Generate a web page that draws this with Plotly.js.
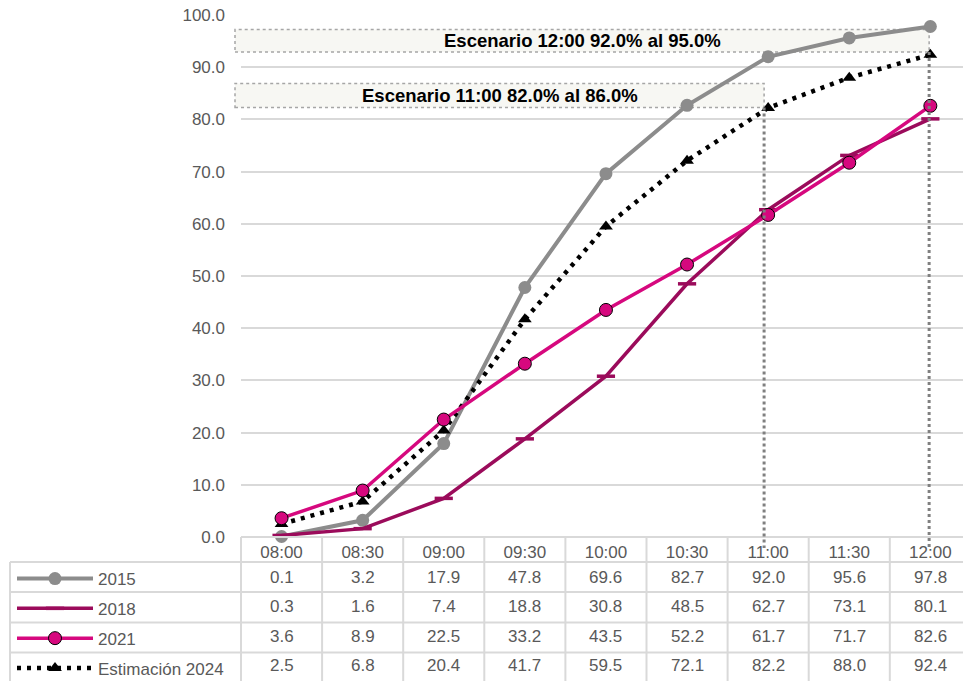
<!DOCTYPE html>
<html>
<head>
<meta charset="utf-8">
<script src="https://cdn.plot.ly/plotly-3.0.1.min.js"></script>
<style>html,body{margin:0;padding:0;background:#fff;}#chart{width:963px;height:681px;}</style>
</head>
<body>
<div id="chart"></div>
<script>
// ---- data ----
const times = ["08:00","08:30","09:00","09:30","10:00","10:30","11:00","11:30","12:00"];
const y2015 = [0.1, 3.2, 17.9, 47.8, 69.6, 82.7, 92.0, 95.6, 97.8];
const y2018 = [0.3, 1.6, 7.4, 18.8, 30.8, 48.5, 62.7, 73.1, 80.1];
const y2021 = [3.6, 8.9, 22.5, 33.2, 43.5, 52.2, 61.7, 71.7, 82.6];
const yEst  = [2.5, 6.8, 20.4, 41.7, 59.5, 72.1, 82.2, 88.0, 92.4];
const seriesNames = ["2015", "2018", "2021", "Estimación 2024"];
const scenarios = [
  {time: "11:00", text: "Escenario 11:00 82.0% al 86.0%", y0: 82.3, y1: 86.9, dx: -0.05},
  {time: "12:00", text: "Escenario 12:00 92.0% al 95.0%", y0: 92.9, y1: 97.2, dx: -0.015}
];

// ---- layout constants ----
const W = 963, H = 681;
const mL = 241, mT = 15, mB = 144;
const plotH = H - mT - mB;            // 522
const plotW = W - mL;                 // 722
const xMin = -0.5, xMax = xMin + plotW / 81.1;
const FONT = "Liberation Sans, Arial, sans-serif";
const GRID = "#d9d9d9";
const TXT = "#595959";
const FS = 17;

function pyToPaper(py) { return (H - mB - py) / plotH; }
function xToPaper(i) { return (i - xMin) / (xMax - xMin); }

const rowTops = [562, 592, 622.5, 652.5, 682];
const rowCenters = [577, 606.5, 636.5, 665.5];

const colors = ["#8c8c8c", "#9b0b5b", "#d6087e", "#000000"];

const traces = [
  {x: times, y: y2015, name: seriesNames[0], type: "scatter", mode: "lines+markers",
   line: {color: colors[0], width: 4}, marker: {symbol: "circle", size: 13, color: colors[0]}},
  {x: times, y: y2018, name: seriesNames[1], type: "scatter", mode: "lines+markers",
   line: {color: colors[1], width: 3.5}, marker: {symbol: "line-ew", size: 13, line: {color: colors[1], width: 3.5}}},
  {x: times, y: yEst, name: seriesNames[3], type: "scatter", mode: "lines+markers",
   line: {color: colors[3], width: 4.5, dash: "4px,6px"}, marker: {symbol: "triangle-up", size: 12, color: colors[3]}},
  {x: times, y: y2021, name: seriesNames[2], type: "scatter", mode: "lines+markers",
   line: {color: colors[2], width: 3.5}, marker: {symbol: "circle", size: 13, color: colors[2], line: {color: "#000", width: 1}}}
];
traces[0].legendrank = 1; traces[1].legendrank = 2; traces[3].legendrank = 3; traces[2].legendrank = 4;

const shapes = [];
const annotations = [];

// table grid
shapes.push({type: "line", xref: "paper", yref: "paper", x0: 0, x1: 1, y0: 0, y1: 0, line: {color: GRID, width: 2}});
rowTops.slice(0, 4).forEach(py => {
  shapes.push({type: "line", xref: "paper", yref: "paper", x0: (10 - mL) / plotW, x1: 1, y0: pyToPaper(py), y1: pyToPaper(py), line: {color: GRID, width: 2}});
});
for (let i = 0; i <= times.length; i++) {
  const xp = xToPaper(i - 0.5);
  if (xp > 1.001) continue;
  shapes.push({type: "line", xref: "paper", yref: "paper", x0: xp, x1: xp, y0: 0, y1: pyToPaper(H + 2), line: {color: GRID, width: 2}});
}
shapes.push({type: "line", xref: "paper", yref: "paper", x0: (10 - mL) / plotW, x1: (10 - mL) / plotW, y0: pyToPaper(rowTops[0]), y1: pyToPaper(H + 2), line: {color: GRID, width: 2}});

// table values
const tableRows = [y2015, y2018, y2021, yEst];
tableRows.forEach((row, r) => {
  row.forEach((v, i) => {
    annotations.push({xref: "x", yref: "paper", x: times[i], y: pyToPaper(rowCenters[r]), text: v.toFixed(1),
      showarrow: false, font: {family: FONT, size: FS, color: TXT}, xanchor: "center", yanchor: "middle"});
  });
});

// scenario boxes, drop lines and labels
scenarios.forEach(s => {
  const idx = times.indexOf(s.time);
  const xr = xToPaper(idx + s.dx);
  shapes.push({type: "rect", xref: "paper", yref: "y", x0: (235 - mL) / plotW, x1: xr, y0: s.y0, y1: s.y1,
    fillcolor: "#f7f7f3", line: {color: "#a6a6a6", width: 1.5, dash: "dot"}, layer: "below"});
  annotations.push({xref: "paper", yref: "y", x: ((235 - mL) / plotW + xr) / 2, y: (s.y0 + s.y1) / 2, text: "<b>" + s.text + "</b>",
    showarrow: false, font: {family: FONT, size: 18.5, color: "#000"}, xanchor: "center", yanchor: "middle"});
  shapes.push({type: "line", xref: "x", yref: "paper", x0: idx + s.dx, x1: idx + s.dx, y0: s.y0 / 100, y1: pyToPaper(548),
    line: {color: "#808080", width: 3, dash: "dot"}, layer: "above"});
});

const layout = {
  width: W, height: H,
  margin: {l: mL, r: 0, t: mT, b: mB, pad: 0, autoexpand: false},
  paper_bgcolor: "#fff", plot_bgcolor: "#fff",
  font: {family: FONT, size: FS, color: TXT},
  showlegend: true,
  legend: {x: (12 - mL) / plotW, y: pyToPaper(rowTops[0] - 1), xanchor: "left", yanchor: "top",
    font: {family: FONT, size: FS, color: TXT}, bgcolor: "rgba(0,0,0,0)", tracegroupgap: 4.7,
    traceorder: "grouped", itemwidth: 76},
  xaxis: {type: "category", range: [xMin, xMax], showgrid: false, zeroline: false, showline: false,
    ticks: "", ticklabelstandoff: 3, tickfont: {family: FONT, size: FS, color: TXT}, fixedrange: true, automargin: false},
  yaxis: {range: [0, 100], dtick: 10, tickformat: ".1f", showgrid: true, gridcolor: GRID, gridwidth: 2,
    zeroline: false, showline: false, ticks: "", ticklabelstandoff: 15,
    tickfont: {family: FONT, size: FS, color: TXT}, fixedrange: true, automargin: false},
  shapes: shapes,
  annotations: annotations
};
traces.forEach((t, i) => { t.legendgroup = "g" + i; t.cliponaxis = false; });

Plotly.newPlot("chart", traces, layout, {displayModeBar: false, staticPlot: true});
</script>
</body>
</html>
